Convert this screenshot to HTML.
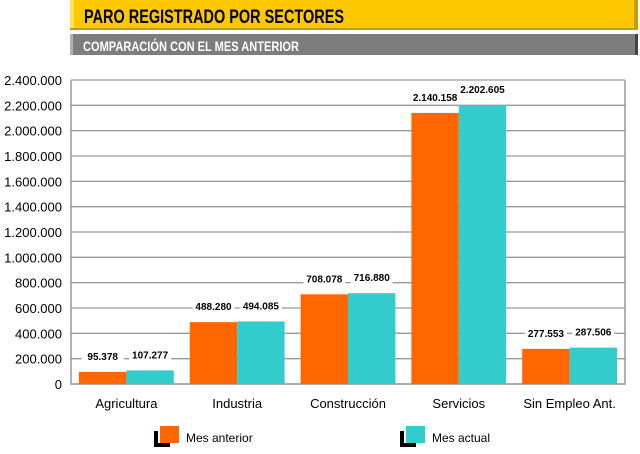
<!DOCTYPE html>
<html><head><meta charset="utf-8"><style>
body{margin:0;background:#fff;width:640px;height:449px;overflow:hidden;font-family:"Liberation Sans",sans-serif}
</style></head><body>
<svg width="640" height="449" viewBox="0 0 640 449">
<g>
<rect x="70" y="0" width="568" height="30" fill="#fdc800"/>
<rect x="634" y="0" width="4" height="30" fill="#c49b00"/>
<rect x="70" y="0" width="4" height="30" fill="#ffe060"/>
<rect x="70" y="28" width="568" height="2" fill="#c49b00"/>
<text x="84" y="23" font-size="19" font-weight="bold" fill="#000" textLength="260" lengthAdjust="spacingAndGlyphs">PARO REGISTRADO POR SECTORES</text>
</g>
<g>
<rect x="70" y="34" width="568" height="21" fill="#7d7d7d"/>
<rect x="70" y="34" width="3" height="21" fill="#b0b0b0"/>
<rect x="635" y="34" width="3" height="21" fill="#444"/>
<text x="83" y="51" font-size="14" font-weight="bold" fill="#fff" textLength="216" lengthAdjust="spacingAndGlyphs">COMPARACIÓN CON EL MES ANTERIOR</text>
</g>
<g id="grid"></g><g id="bars"></g><g id="labels"></g>
<g>
<g>
<rect x="154" y="431" width="16" height="16" fill="#000"/><rect x="158" y="427" width="20" height="16" fill="#fff"/>
<rect x="160" y="426" width="19" height="17" fill="#ff6600"/>
<text x="186" y="442" font-size="12" fill="#000">Mes anterior</text></g>
<g>
<rect x="400" y="431" width="16" height="16" fill="#000"/><rect x="404" y="427" width="20" height="16" fill="#fff"/>
<rect x="406" y="426" width="19" height="17" fill="#33cccc"/>
<text x="432" y="442" font-size="12" fill="#000">Mes actual</text></g>
</g>
</svg>
<script>
const categories=["Agricultura","Industria","Construcción","Servicios","Sin Empleo Ant."];
const mesAnterior=[95378,488280,708078,2140158,277553];
const mesActual=[107277,494085,716880,2202605,287506];
const yTicks=[0,200000,400000,600000,800000,1000000,1200000,1400000,1600000,1800000,2000000,2200000,2400000];
const NS="http://www.w3.org/2000/svg";
const L=71,R=625,T=80,B=384,MAX=2400000;
const y=v=>B-(v/MAX)*(B-T);
const gw=(R-L)/categories.length;
const fmt=v=>String(v).replace(/\B(?=(\d{3})+(?!\d))/g,".");
function mk(t,a,p){const e=document.createElementNS(NS,t);for(const k in a)e.setAttribute(k,a[k]);p.appendChild(e);return e;}
const grid=document.getElementById('grid'),bars=document.getElementById('bars'),labels=document.getElementById('labels');
yTicks.forEach(t=>{
 const l=mk('line',{x1:L,x2:R,y1:y(t),y2:y(t),stroke:'#999','stroke-width':1.3},grid);
 
 
 const tx=mk('text',{x:62,y:y(t)+5,'font-size':13,'text-anchor':'end',fill:'#000'},grid);
 tx.textContent=fmt(t);
 
 
});
const ax=mk('path',{d:`M${L},${T}V${B}H${R}V${T}`,fill:'none',stroke:'#999','stroke-width':1.5},grid);


categories.forEach((c,i)=>{
 const x0=L+i*gw+8,bw=(gw-16)/2;
 [[mesAnterior[i],'#ff6600',x0],[mesActual[i],'#33cccc',x0+bw]].forEach(([v,col,x],j)=>{
  const r=mk('rect',{x:x,y:y(v),width:bw,height:B-y(v),fill:col},bars);
  
  
  const tw=42,ly=y(v)-15;
  const bg=mk('rect',{x:x+bw/2-tw/2,y:ly-8,width:tw,height:14,fill:'#fff'},labels);
  
  
  const t=mk('text',{x:x+bw/2,y:ly+3,'font-size':10,'font-weight':'bold','text-anchor':'middle',fill:'#000'},labels);
  t.textContent=fmt(v);
  
  
 });
 const ct=mk('text',{x:L+i*gw+gw/2,y:408,'font-size':13,'text-anchor':'middle',fill:'#000'},labels);
 ct.textContent=c;
 
 
});
</script>
</body></html>
